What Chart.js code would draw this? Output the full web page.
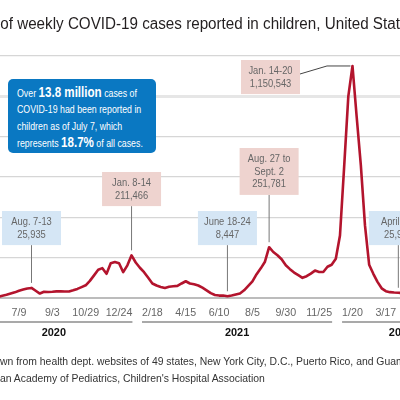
<!DOCTYPE html>
<html>
<head>
<meta charset="utf-8">
<title>Weekly COVID-19 cases reported in children</title>
<script src="https://cdn.jsdelivr.net/npm/chart.js@4.4.1/dist/chart.umd.min.js"></script>
<style>
    html, body { margin: 0; padding: 0; background: #fff; }
    body {
        width: 400px; height: 400px; overflow: hidden; position: relative;
        font-family: 'Liberation Sans', Arial, sans-serif;
    }
    #chartBox { position: absolute; left: 0; top: 0; width: 400px; height: 400px; }
    .cropped { position: absolute; white-space: nowrap; transform-origin: 0 0; }
    #title { top: 14px; font-size: 16px; line-height: 20px; color: #231f20; transform: scaleX(0.95); }
    .note { font-size: 10.4px; line-height: 16px; color: #333; }
    #note1 { top: 354px; }
    #note2 { top: 371px; }
    #callout {
        position: absolute; left: 8px; top: 79px; width: 148px; height: 74px;
        background: #0a78c2; border-radius: 5px; color: #fff;
    }
    #callout .txt {
        position: absolute; left: 9px; top: 5px;
        font-size: 11px; line-height: 16.3px; white-space: nowrap;
        transform: scaleX(0.8); transform-origin: 0 0;
    }
    #callout b { font-size: 14.5px; }
</style>
</head>
<body>
<div id="chartBox"><canvas id="casesChart" width="400" height="400"></canvas></div>

<div id="title" class="cropped"><span class="cut">Number </span>of weekly COVID-19 cases reported in children, United States</div>

<div id="callout"><div class="txt">
    Over <b>13.8 million</b> cases of<br>
    COVID-19 had been reported in<br>
    children as of July 7, which<br>
    represents <b>18.7%</b> of all cases.
</div></div>

<div id="note1" class="cropped note"><span class="cut">Note: Data were dra</span>wn from health dept. websites of 49 states, New York City, D.C., Puerto Rico, and Guam.</div>
<div id="note2" class="cropped note"><span class="cut">Source: Americ</span>an Academy of Pediatrics, Children's Hospital Association</div>

<script>
// week-ending dates (visible part of the chart)
const weekEnding = [
    '2020-06-04', '2020-06-11', '2020-06-18', '2020-06-25', '2020-07-02', '2020-07-09', '2020-07-16', '2020-07-23',
    '2020-07-30', '2020-08-06', '2020-08-13', '2020-08-20', '2020-08-27', '2020-09-03', '2020-09-10', '2020-09-17',
    '2020-09-24', '2020-10-01', '2020-10-08', '2020-10-15', '2020-10-22', '2020-10-29', '2020-11-05', '2020-11-12',
    '2020-11-19', '2020-11-26', '2020-12-03', '2020-12-10', '2020-12-17', '2020-12-24', '2020-12-31', '2021-01-07',
    '2021-01-14', '2021-01-21', '2021-01-28', '2021-02-04', '2021-02-11', '2021-02-18', '2021-02-25', '2021-03-04',
    '2021-03-11', '2021-03-18', '2021-03-25', '2021-04-01', '2021-04-08', '2021-04-15', '2021-04-22', '2021-04-29',
    '2021-05-06', '2021-05-13', '2021-05-20', '2021-05-27', '2021-06-03', '2021-06-10', '2021-06-17', '2021-06-24',
    '2021-07-01', '2021-07-08', '2021-07-15', '2021-07-22', '2021-07-29', '2021-08-05', '2021-08-12', '2021-08-19',
    '2021-08-26', '2021-09-02', '2021-09-09', '2021-09-16', '2021-09-23', '2021-09-30', '2021-10-07', '2021-10-14',
    '2021-10-21', '2021-10-28', '2021-11-04', '2021-11-11', '2021-11-18', '2021-11-25', '2021-12-02', '2021-12-09',
    '2021-12-16', '2021-12-23', '2021-12-30', '2022-01-06', '2022-01-13', '2022-01-20', '2022-01-27', '2022-02-03',
    '2022-02-10', '2022-02-17', '2022-02-24', '2022-03-03', '2022-03-10', '2022-03-17', '2022-03-24', '2022-03-31',
    '2022-04-07', '2022-04-14'
];

const weeklyCases = [
    6000, 11000, 16000, 22000, 28000, 36000, 42000, 47000,
    50000, 36000, 22000, 31000, 30000, 31000, 33000, 33000,
    32000, 32000, 38000, 45000, 54000, 63000, 85000, 112000,
    140000, 148000, 120000, 172000, 178000, 172000, 128000, 162000,
    211466, 176000, 150000, 128000, 100000, 72000, 62000, 55000,
    50000, 56000, 58000, 60000, 72000, 83000, 72000, 68000,
    62000, 51000, 38000, 24000, 15000, 12000, 12000, 8447,
    12000, 17000, 22000, 38000, 60000, 82000, 118000, 147000,
    180000, 251781, 228000, 212000, 192000, 162000, 143000, 126000,
    113000, 100000, 108000, 121000, 136000, 129000, 129000, 155000,
    165000, 195000, 310000, 650000, 1000000, 1150543, 900000, 660000,
    360000, 165000, 120000, 80000, 48000, 34000, 29000, 27000,
    25915, 24000
];

// x-axis tick dates; the year brackets span each year's ticks
const tickDates = [
    '2020-05-14', '2020-07-09', '2020-09-03', '2020-10-29', '2020-12-24',
    '2021-02-18', '2021-04-15', '2021-06-10', '2021-08-05', '2021-09-30', '2021-11-25',
    '2022-01-20', '2022-03-17', '2022-05-12', '2022-07-07'
];
const years = ['2020', '2021', '2022'];

const yMax = 1200000;
const yStep = 200000;

// visible window of the original chart, in weeks from July 9, 2020
const X_MIN = -4.56;
const X_MAX = 91.4;

const LINE_RED = '#b3142d';
const HIGH_FILL = '#eed3cf';
const LOW_FILL = '#d5e6f5';
const FONT = "'Liberation Sans', Arial, sans-serif";

const callouts = [
    { date: '2020-07-30', lines: ['Aug. 7-13', '25,935'], fill: LOW_FILL, top: 211 },
    { date: '2021-01-14', lines: ['Jan. 8-14', '211,466'], fill: HIGH_FILL, top: 172 },
    { date: '2021-06-24', lines: ['June 18-24', '8,447'], fill: LOW_FILL, top: 211 },
    { date: '2021-09-02', lines: ['Aug. 27 to', 'Sept. 2', '251,781'], fill: HIGH_FILL, top: 148 },
    { date: '2022-01-20', lines: ['Jan. 14-20', '1,150,543'], fill: HIGH_FILL, top: 60, dx: -82, elbow: true },
    { date: '2022-04-07', lines: ['April 1-7', '25,915'], fill: LOW_FILL, top: 211 }
];

const BASE = Date.UTC(2020, 6, 9);
function weekOf(iso) {
    return (Date.parse(iso) - BASE) / (7 * 864e5);
}
function shortDate(iso) {
    const [, m, d] = iso.split('-');
    return `${+m}/${+d}`;
}

const tickWeeks = tickDates.map(weekOf);
const points = weeklyCases.map((v, i) => ({ x: weekOf(weekEnding[i]), y: v }));

// condensed look: squeeze text horizontally
function squeezedText(ctx, text, x, y, sx) {
    ctx.save();
    ctx.translate(x, y);
    ctx.scale(sx, 1);
    ctx.fillText(text, 0, 0);
    ctx.restore();
}

const TICK_SIZE = 11.5, TICK_SX = 0.93;

const calloutPlugin = {
    id: 'calloutPlugin',
    afterDraw(chart) {
        const { ctx, scales: { x, y } } = chart;
        ctx.save();
        ctx.textAlign = 'center';
        ctx.textBaseline = 'middle';

        // date labels
        ctx.font = `${TICK_SIZE}px ${FONT}`;
        ctx.fillStyle = '#666';
        tickWeeks.forEach((t, i) => {
            if (t < X_MIN || t > X_MAX) return;
            squeezedText(ctx, shortDate(tickDates[i]), x.getPixelForValue(t), 312.5, TICK_SX);
        });

        // year brackets under the date labels
        years.forEach(yr => {
            ctx.font = `${TICK_SIZE}px ${FONT}`;
            const idx = tickDates.map((d, i) => d.startsWith(yr) ? i : -1).filter(i => i >= 0);
            const first = idx[0], last = idx[idx.length - 1];
            const x0 = x.getPixelForValue(tickWeeks[first]) - ctx.measureText(shortDate(tickDates[first])).width * TICK_SX / 2;
            const x1 = x.getPixelForValue(tickWeeks[last]) + ctx.measureText(shortDate(tickDates[last])).width * TICK_SX / 2;
            ctx.strokeStyle = '#8c8c8c';
            ctx.lineWidth = 1.5;
            ctx.beginPath();
            ctx.moveTo(x0, 322);
            ctx.lineTo(x1, 322);
            ctx.stroke();
            ctx.font = `bold 11.5px ${FONT}`;
            ctx.fillStyle = '#111';
            squeezedText(ctx, yr, (x0 + x1) / 2, 333, 0.95);
        });

        // labelled highs and lows
        callouts.forEach(c => {
            const i = weekEnding.indexOf(c.date);
            const px = x.getPixelForValue(weekOf(c.date));
            const py = y.getPixelForValue(weeklyCases[i]);
            const w = 59;
            const h = c.lines.length * 12.8 + 8.5;
            const cx = px + (c.dx || 0);
            const left = cx - w / 2;

            ctx.lineWidth = 1;
            ctx.strokeStyle = c.elbow ? '#444' : '#777';
            ctx.beginPath();
            if (c.elbow) {
                ctx.moveTo(left + w, c.top + 14);
                ctx.lineTo(left + w + 27, py);
                ctx.lineTo(px - 2, py);
            } else {
                ctx.moveTo(px, c.top + h);
                ctx.lineTo(px, py - 5);
            }
            ctx.stroke();

            ctx.fillStyle = c.fill;
            ctx.fillRect(left, c.top, w, h);

            ctx.fillStyle = '#666';
            ctx.font = `11px ${FONT}`;
            c.lines.forEach((line, k) => squeezedText(ctx, line, cx, c.top + 10.7 + k * 12.8, 0.85));
        });

        ctx.restore();
    }
};

new Chart(document.getElementById('casesChart'), {
    type: 'line',
    data: {
        datasets: [{
            data: points,
            borderColor: LINE_RED,
            borderWidth: 2.6,
            borderJoinStyle: 'round',
            borderCapStyle: 'round',
            pointRadius: 0,
            tension: 0,
            fill: false
        }]
    },
    options: {
        responsive: false,
        animation: false,
        layout: { padding: { top: 56, left: 0, right: 0, bottom: 0 } },
        plugins: {
            legend: { display: false },
            tooltip: { enabled: false }
        },
        scales: {
            x: {
                type: 'linear',
                min: X_MIN,
                max: X_MAX,
                grid: { display: false },
                border: { display: false },
                ticks: { display: false },
                afterBuildTicks: scale => {
                    scale.ticks = tickWeeks.filter(t => t >= X_MIN && t <= X_MAX).map(t => ({ value: t }));
                },
                afterFit: scale => { scale.height = 102; }
            },
            y: {
                min: 0,
                max: yMax,
                border: { display: false },
                ticks: { display: false, stepSize: yStep },
                grid: {
                    drawTicks: false,
                    tickLength: 0,
                    color: c => c.tick.value === 0 ? '#bcbcbc' : (c.tick.value === 1000000 ? '#e6e6e6' : '#d6d6d6'),
                    lineWidth: c => c.tick.value === 0 ? 2 : (c.tick.value === 1000000 ? 3 : 1.3)
                },
                afterFit: scale => { scale.width = 0; }
            }
        }
    },
    plugins: [calloutPlugin]
});

// shift partly-cut text so the visible part starts at the left edge
document.querySelectorAll('.cropped').forEach(el => {
    const cut = el.querySelector('.cut');
    el.style.left = -cut.getBoundingClientRect().width + 'px';
});
</script>
</body>
</html>
